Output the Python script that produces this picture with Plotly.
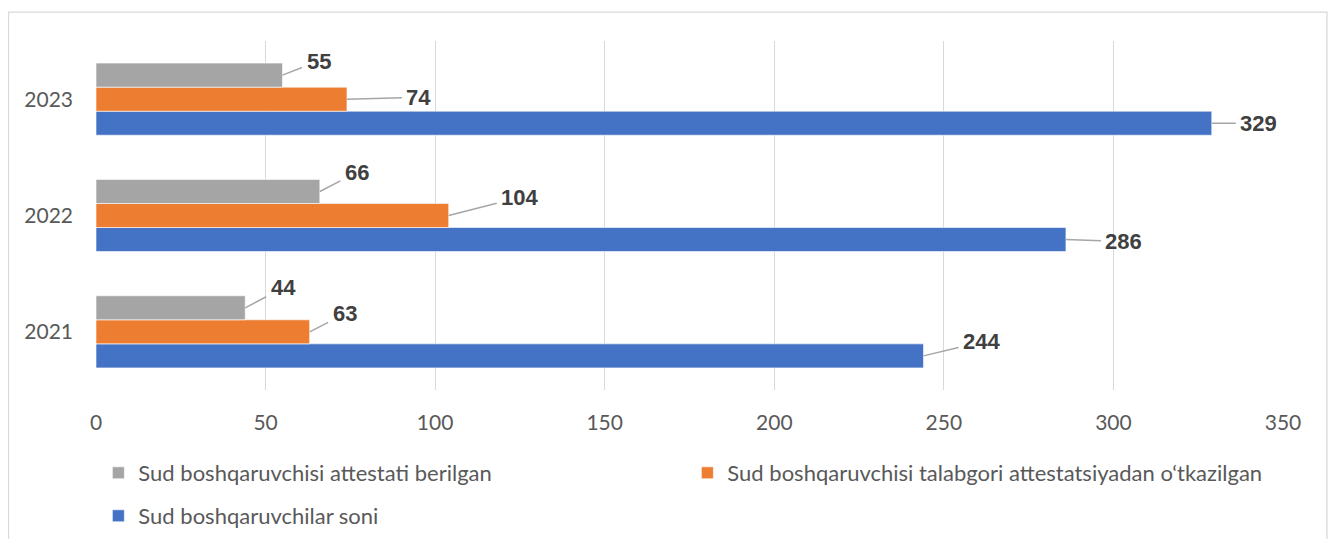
import plotly.graph_objects as go

years = ["2021", "2022", "2023"]
s_grey_name = "Sud boshqaruvchisi attestati berilgan"
s_orange_name = "Sud boshqaruvchisi talabgori attestatsiyadan o‘tkazilgan"
s_blue_name = "Sud boshqaruvchilar soni"
grey_vals = [44, 66, 55]
orange_vals = [63, 104, 74]
blue_vals = [244, 286, 329]
x_ticks = [0, 50, 100, 150, 200, 250, 300, 350]

C_GREY = "#A5A5A5"
C_ORANGE = "#ED7D31"
C_BLUE = "#4472C4"
TXT = "#595959"
LBL = "#404040"
TICK_FONT = "Lato"

fig = go.Figure()
fig.add_trace(go.Bar(y=years, x=blue_vals, name=s_blue_name, orientation="h",
                     marker=dict(color=C_BLUE, line=dict(color="white", width=0.6)),
                     legend="legend2"))
fig.add_trace(go.Bar(y=years, x=orange_vals, name=s_orange_name, orientation="h",
                     marker=dict(color=C_ORANGE, line=dict(color="white", width=0.6)),
                     legend="legend"))
fig.add_trace(go.Bar(y=years, x=grey_vals, name=s_grey_name, orientation="h",
                     marker=dict(color=C_GREY, line=dict(color="white", width=0.6)),
                     legend="legend"))

bargap = 0.38
bw = (1 - bargap) / 3
# label offsets (px) of text from bar end: per series, per year
offsets = {
    "blue": [(58, -14), (58, 2), (47, 0)],
    "orange": [(35, -18), (71, -18), (72, -2)],
    "grey": [(38, -20), (37, -19), (36, -14)],
}
series = [("blue", blue_vals, -bw), ("orange", orange_vals, 0.0), ("grey", grey_vals, bw)]
for key, vals, off in series:
    for i, v in enumerate(vals):
        ax, ay = offsets[key][i]
        fig.add_annotation(x=v, y=i + off, xref="x", yref="y", text=str(v),
                           showarrow=True, arrowhead=0, arrowwidth=1.5, arrowcolor="#A6A6A6",
                           ax=ax, ay=ay, standoff=0, borderpad=4,
                           font=dict(family="Liberation Sans", size=22, color=LBL, weight="bold"))

fig.update_layout(
    width=1320, height=531,
    margin=dict(l=88, r=45, t=33, b=149),
    paper_bgcolor="white", plot_bgcolor="white",
    barmode="group", bargap=bargap, bargroupgap=0,
    font=dict(family=TICK_FONT, color=TXT, size=21),
    xaxis=dict(range=[0, 350], tickvals=x_ticks, showgrid=True, gridcolor="#D9D9D9",
               gridwidth=1.3, zeroline=False, showline=False, ticks="",
               ticklabelstandoff=18, tickfont=dict(size=21, color=TXT, family=TICK_FONT)),
    yaxis=dict(showgrid=False, zeroline=False, showline=False, ticks="",
               ticklabelstandoff=22, tickfont=dict(size=21, color=TXT, family=TICK_FONT),
               categoryorder="array", categoryarray=years),
    legend=dict(orientation="h", traceorder="reversed", x=0.002, xanchor="left",
                yref="container", y=0.1243, yanchor="middle", entrywidth=544,
                bgcolor="rgba(0,0,0,0)", font=dict(size=22, color=TXT, family=TICK_FONT)),
    legend2=dict(orientation="h", x=0.002, xanchor="left",
                 yref="container", y=0.0433, yanchor="middle", bgcolor="rgba(0,0,0,0)",
                 font=dict(size=22, color=TXT, family=TICK_FONT)),
    shapes=[dict(type="rect", xref="paper", yref="paper", x0=-0.0737, x1=1.037,
                 y0=-0.46, y1=1.083, line=dict(color="#D9D9D9", width=1.3),
                 fillcolor="rgba(0,0,0,0)", layer="below")],
)

fig.write_html("out.html")
